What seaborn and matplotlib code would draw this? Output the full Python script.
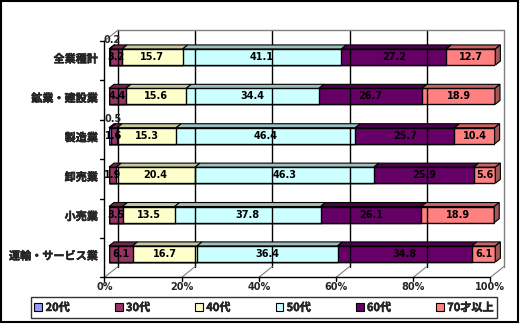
import matplotlib
matplotlib.use("Agg")
import numpy as np
import pandas as pd
import matplotlib.pyplot as plt
import matplotlib.patheffects as pe
from matplotlib.patches import Patch, Polygon, Rectangle
from matplotlib.lines import Line2D
import seaborn as sns

# Age composition of business owners by industry (%)
industries = ["全業種計", "鉱業・建設業", "製造業", "卸売業", "小売業", "運輸・サービス業"]
age_groups = ["20代", "30代", "40代", "50代", "60代", "70才以上"]
age20 = [0.2, 0.0, 0.5, 0.0, 0.0, 0.0]
age30 = [3.2, 4.4, 1.6, 1.9, 3.5, 6.1]
age40 = [15.7, 15.6, 15.3, 20.4, 13.5, 16.7]
age50 = [41.1, 34.4, 46.4, 46.3, 37.8, 36.4]
age60 = [27.2, 26.7, 25.7, 25.9, 26.1, 34.8]
age70 = [12.7, 18.9, 10.4, 5.6, 18.9, 6.1]
x_ticks = [0, 20, 40, 60, 80, 100]
x_tick_labels = ["0%", "20%", "40%", "60%", "80%", "100%"]

face_colors = ["#9999FF", "#993366", "#FFFFCC", "#CCFFFF", "#660066", "#FF8080"]
top_colors = ["#7373C0", "#73264D", "#C8C8A0", "#9FBFBF", "#4D004D", "#C86464"]
side_color = "#A05858"

FONT = ["Noto Sans CJK JP", "DejaVu Sans"]
sns.set_theme(style="white")
plt.rcParams["font.family"] = FONT

# slightly heavier strokes for the Japanese labels
HEAVY = [pe.withStroke(linewidth=0.3, foreground="black")]

W, H, DPI = 520, 325, 100
fig = plt.figure(figsize=(W / DPI, H / DPI), dpi=DPI)
fig.patch.set_facecolor("white")

# axes = plane of the bar fronts
ax = fig.add_axes([109 / W, 1 - 273.7 / H, 386 / W, (273.7 - 37.3) / H])
ax.set_facecolor("none")

values = pd.DataFrame(
    {g: v for g, v in zip(age_groups, [age20, age30, age40, age50, age60, age70])},
    index=industries,
)
cum = values.cumsum(axis=1)
BAR_W = 0.41

# stacked bars: draw cumulative totals from the outermost layer inwards
for i in range(len(age_groups) - 1, -1, -1):
    g = age_groups[i]
    sns.barplot(x=cum[g].values, y=industries, orient="h", color=face_colors[i],
                saturation=1, width=BAR_W, edgecolor="black", linewidth=1.0,
                ax=ax, zorder=3)

ax.set_xlim(0, 100)
ax.set_ylim(len(industries) - 0.5, -0.5)
for s in ax.spines.values():
    s.set_visible(False)
ax.set_xticks([])
ax.set_yticks([])
ax.set_xlabel("")
ax.set_ylabel("")

inv = fig.transFigure.inverted()


def pt(x, y, dx=0.0, dy=0.0):
    """data point on the bar plane, shifted by pixel offsets (dy>0 = up)"""
    px, py = ax.transData.transform((x, y))
    return inv.transform((px + dx, py + dy))


FRONT = (-4.6, -3.7)
BACK = (9.0, 7.2)
DEPTH = (5.0, 4.0)
ymin, ymax = -0.5, len(industries) - 0.5

def fline(p0, p1, **kw):
    fig.add_artist(Line2D([p0[0], p1[0]], [p0[1], p1[1]], transform=fig.transFigure, **kw))

# back wall gridlines and outline
for xv in x_ticks:
    col = "black" if xv < 100 else "#808080"
    fline(pt(xv, ymin, *BACK), pt(xv, ymax, *BACK), color=col, lw=1.0, zorder=1)
fline(pt(0, ymin, *BACK), pt(100, ymin, *BACK), color="#808080", lw=1.0, zorder=1)
# floor diagonals
for xv in x_ticks:
    fline(pt(xv, ymax, *FRONT), pt(xv, ymax, *BACK), color="#808080", lw=0.8, zorder=1)
fline(pt(0, ymin, *FRONT), pt(0, ymin, *BACK), color="#808080", lw=0.8, zorder=1)

# front axes
fline(pt(0, ymin, *FRONT), pt(0, ymax, *FRONT), color="black", lw=1.0, zorder=2)
fline(pt(0, ymax, *FRONT), pt(100, ymax, *FRONT), color="black", lw=1.0, zorder=2)
for k in range(len(industries) + 1):
    yb = k - 0.5
    fline(pt(0, yb, *FRONT), pt(0, yb, FRONT[0] - 4, FRONT[1]), color="black", lw=1.0)
for xv, lab in zip(x_ticks, x_tick_labels):
    fline(pt(xv, ymax, *FRONT), pt(xv, ymax, FRONT[0], FRONT[1] - 4), color="black", lw=1.0)
    p = pt(xv, ymax, FRONT[0], FRONT[1] - 10)
    fig.text(p[0], p[1], lab, ha="center", va="center", fontsize=7,
             fontweight="bold", family=["DejaVu Sans"])

# category labels
for j, name in enumerate(industries):
    p = pt(0, j, -11, -2)
    fig.text(p[0], p[1], name, ha="right", va="center", fontsize=8,
             fontweight="bold", family=FONT, path_effects=HEAVY)

# 3-D top faces, end faces and value labels
for j, name in enumerate(industries):
    ytop = j - BAR_W / 2
    ybot = j + BAR_W / 2
    left = 0.0
    for i, g in enumerate(age_groups):
        v = values.loc[name, g]
        right = left + v
        if v > 0:
            poly = [pt(left, ytop), pt(right, ytop), pt(right, ytop, *DEPTH), pt(left, ytop, *DEPTH)]
            fig.add_artist(Polygon(poly, closed=True, transform=fig.transFigure,
                                   facecolor=top_colors[i], edgecolor="black", lw=0.8, zorder=4))
            if i == 0:
                p = pt(left + v / 2, ytop, 3, 9)
                fig.text(p[0], p[1], f"{v:.1f}", ha="center", va="center", fontsize=7,
                         fontweight="bold", family=["DejaVu Sans"], zorder=6)
            else:
                ax.text((left + right) / 2, j, f"{v:.1f}", ha="center", va="center",
                        fontsize=7, fontweight="bold", family=["DejaVu Sans"],
                        color="black", zorder=6)
        left = right
    side = [pt(left, ytop), pt(left, ytop, *DEPTH), pt(left, ybot, *DEPTH), pt(left, ybot)]
    fig.add_artist(Polygon(side, closed=True, transform=fig.transFigure,
                           facecolor=side_color, edgecolor="black", lw=0.8, zorder=4))

# legend
handles = [Patch(facecolor=c, edgecolor="black", lw=0.8) for c in face_colors]
leg = fig.legend(handles, age_groups, loc="center", ncol=6, mode="expand",
                 bbox_to_anchor=(25 / W, 1 - 318 / H, 478 / W, 21 / H),
                 frameon=True, fancybox=False, edgecolor="black",
                 handlelength=0.7, handleheight=0.7, handletextpad=0.3,
                 borderpad=0.35, columnspacing=1.0,
                 prop={"family": FONT, "weight": "bold", "size": 8})
leg.get_frame().set_linewidth(1.0)
for t in leg.get_texts():
    t.set_path_effects(HEAVY)

# outer frame
fig.add_artist(Rectangle((1 / W, 1 - 322 / H), 517 / W, 321 / H, transform=fig.transFigure,
                         fill=False, edgecolor="black", lw=1.5))

fig.savefig("out.png", dpi=DPI)
